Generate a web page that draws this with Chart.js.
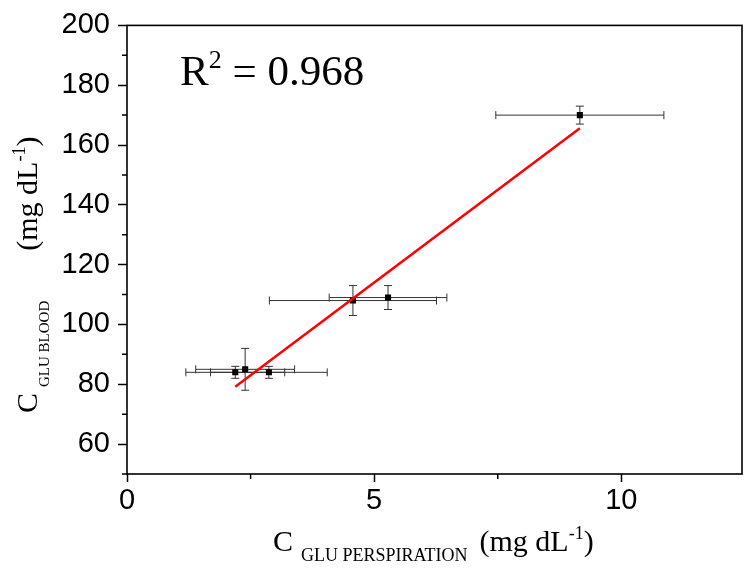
<!DOCTYPE html>
<html><head><meta charset="utf-8">
<script src="https://cdn.jsdelivr.net/npm/chart.js@4"></script>
<style>html,body{margin:0;padding:0;background:#fff}#wrap{width:750px;height:568px;position:relative}</style>
</head><body><div id="wrap"><canvas id="c" width="750" height="568"></canvas></div>
<script>
// ---- data ----
const perspiration    = [2.19, 2.39, 2.87, 4.57, 5.28, 9.16];
const perspirationErr = [1.00, 1.00, 1.18, 1.69, 1.19, 1.70];
const blood           = [84, 85, 84, 108, 109, 170];
const bloodErr        = [2, 7, 2, 5, 4, 3];
const fitX = [2.19, 9.16];
const fitY = [79.2, 165.6];
const xMajorTicks = [0, 5, 10];
const xMinorTicks = [2.5, 7.5];
const yMajorTicks = [60, 80, 100, 120, 140, 160, 180, 200];
const yMinorTicks = [50, 70, 90, 110, 130, 150, 170, 190];
const rSquaredText = '0.968';

const SERIF = '"Liberation Serif", "Times New Roman", serif';
const SANS = '"Liberation Sans", Arial, sans-serif';

function drawRuns(ctx, x, y, runs) {
  for (const r of runs) {
    ctx.font = r.f;
    x += (r.pre || 0);
    ctx.fillText(r.t, x, y + (r.dy || 0));
    x += ctx.measureText(r.t).width;
  }
}

const errorBars = {
  id: 'errorBars',
  beforeDatasetsDraw(chart) {
    const {ctx, scales: {x, y}} = chart;
    ctx.save();
    ctx.strokeStyle = '#333';
    ctx.lineWidth = 1;
    const cap = 4;
    perspiration.forEach((xv, i) => {
      const yv = blood[i];
      const px = x.getPixelForValue(xv), py = y.getPixelForValue(yv);
      const x0 = x.getPixelForValue(xv - perspirationErr[i]);
      const x1 = x.getPixelForValue(xv + perspirationErr[i]);
      const y0 = y.getPixelForValue(yv - bloodErr[i]);
      const y1 = y.getPixelForValue(yv + bloodErr[i]);
      ctx.beginPath();
      ctx.moveTo(x0, py); ctx.lineTo(x1, py);
      ctx.moveTo(x0, py - cap); ctx.lineTo(x0, py + cap);
      ctx.moveTo(x1, py - cap); ctx.lineTo(x1, py + cap);
      ctx.moveTo(px, y0); ctx.lineTo(px, y1);
      ctx.moveTo(px - cap, y0); ctx.lineTo(px + cap, y0);
      ctx.moveTo(px - cap, y1); ctx.lineTo(px + cap, y1);
      ctx.stroke();
    });
    ctx.restore();
  }
};

const frameAndText = {
  id: 'frameAndText',
  afterDraw(chart) {
    const {ctx, chartArea: a, scales: {x, y}} = chart;
    ctx.save();
    // frame
    ctx.strokeStyle = '#000';
    ctx.lineWidth = 1.6;
    ctx.strokeRect(a.left, a.top, a.right - a.left, a.bottom - a.top);
    // minor ticks
    ctx.lineWidth = 1.5;
    ctx.beginPath();
    yMinorTicks.forEach(v => {
      const py = y.getPixelForValue(v);
      ctx.moveTo(a.left, py); ctx.lineTo(a.left - 5, py);
    });
    xMinorTicks.forEach(v => {
      const px = x.getPixelForValue(v);
      ctx.moveTo(px, a.bottom); ctx.lineTo(px, a.bottom + 5);
    });
    ctx.stroke();
    // texts
    ctx.fillStyle = '#000';
    ctx.textBaseline = 'alphabetic';
    ctx.textAlign = 'left';
    // R^2
    drawRuns(ctx, 180, 85, [
      {t: 'R', f: '43px ' + SERIF},
      {t: '2', f: '26px ' + SERIF, dy: -17},
      {t: ' = ' + rSquaredText, f: '43px ' + SERIF}
    ]);
    // x title
    drawRuns(ctx, 273, 551, [
      {t: 'C', f: '30px ' + SERIF},
      {t: 'GLU PERSPIRATION', f: '18px ' + SERIF, dy: 10, pre: 8},
      {t: '(mg dL', f: '30px ' + SERIF, pre: 12},
      {t: '-1', f: '18px ' + SERIF, dy: -12},
      {t: ')', f: '30px ' + SERIF}
    ]);
    // y title (rotated)
    ctx.translate(37, 413);
    ctx.rotate(-Math.PI / 2);
    drawRuns(ctx, 0, 0, [
      {t: 'C', f: '30px ' + SERIF},
      {t: 'GLU BLOOD', f: '15px ' + SERIF, dy: 12, pre: 6},
      {t: '(mg dL', f: '30px ' + SERIF, pre: 50},
      {t: '-1', f: '18px ' + SERIF, dy: -12},
      {t: ')', f: '30px ' + SERIF}
    ]);
    ctx.restore();
  }
};

new Chart(document.getElementById('c'), {
  type: 'scatter',
  data: {
    datasets: [
      {
        type: 'line',
        label: 'fit',
        data: fitX.map((v, i) => ({x: v, y: fitY[i]})),
        borderColor: '#ff0000',
        borderWidth: 2.5,
        pointRadius: 0,
        fill: false,
        tension: 0
      },
      {
        label: 'data',
        data: perspiration.map((v, i) => ({x: v, y: blood[i]})),
        pointStyle: 'rect',
        pointRadius: 4.3,
        pointHoverRadius: 4.3,
        backgroundColor: '#000',
        borderColor: '#000',
        borderWidth: 0
      }
    ]
  },
  options: {
    responsive: false,
    animation: false,
    devicePixelRatio: 1,
    layout: {padding: {top: 23, right: 8, left: 0, bottom: 0}},
    plugins: {legend: {display: false}, tooltip: {enabled: false}},
    scales: {
      x: {
        type: 'linear',
        min: 0, max: 12.44,
        afterBuildTicks: s => { s.ticks = xMajorTicks.map(v => ({value: v})); },
        afterFit: s => { s.height = 94; },
        ticks: {font: {family: SANS, size: 29}, color: '#000', padding: 2, maxRotation: 0, autoSkip: false,
                callback: v => String(v)},
        grid: {drawOnChartArea: false, tickLength: 8, tickColor: '#000', tickWidth: 1.5},
        border: {display: false}
      },
      y: {
        type: 'linear',
        min: 50, max: 200,
        afterBuildTicks: s => { s.ticks = yMajorTicks.map(v => ({value: v})); },
        afterFit: s => { s.width = 127; },
        ticks: {font: {family: SANS, size: 29}, color: '#000', padding: 8, autoSkip: false,
                callback: v => String(v)},
        grid: {drawOnChartArea: false, tickLength: 9, tickColor: '#000', tickWidth: 1.5},
        border: {display: false}
      }
    }
  },
  plugins: [errorBars, frameAndText]
});
</script>
</body></html>
